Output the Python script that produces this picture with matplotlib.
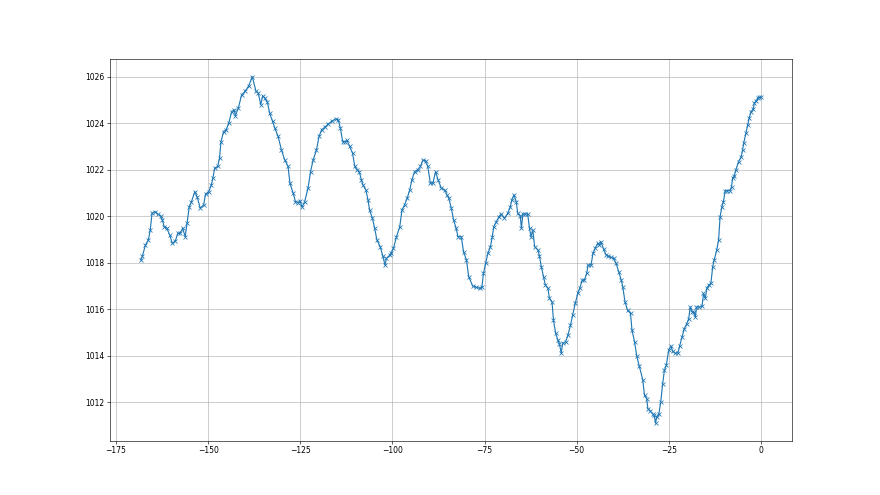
import matplotlib
matplotlib.use('Agg')
import matplotlib.pyplot as plt

# Pressure readings over the last week (hours before now, hPa)
hours = [
    -168.2, -167.8, -167.0, -166.2, -165.7, -165.2, -164.4, -163.7, -162.8, -162.4,
    -161.9, -161.2, -160.4, -159.7, -158.9, -158.2, -157.6, -156.9, -156.2, -155.7,
    -155.1, -154.5, -153.6, -153.0, -152.1, -151.2, -150.7, -149.8, -149.1, -148.7,
    -148.2, -147.4, -146.9, -146.5, -145.8, -145.1, -144.4, -143.6, -142.9, -142.6,
    -141.8, -140.9, -140.0, -139.0, -138.0, -137.0, -136.4, -135.7, -135.2, -134.6,
    -133.9, -133.3, -132.5, -131.9, -131.0, -130.1, -129.2, -128.3, -127.8, -126.9,
    -126.3, -125.6, -125.1, -124.5, -123.8, -122.9, -122.2, -121.5, -120.6, -119.9,
    -119.2, -118.3, -117.4, -116.5, -115.4, -114.7, -114.1, -113.5, -112.9, -112.3,
    -111.6, -110.8, -110.2, -109.6, -109.0, -108.4, -108.0, -107.2, -106.6, -106.2,
    -105.4, -104.8, -104.2, -103.3, -102.6, -102.0, -101.6, -100.7, -100.4, -99.7,
    -98.9, -98.0, -97.4, -96.7, -96.0, -95.3, -94.7, -94.0, -93.1, -92.4,
    -91.7, -91.0, -90.4, -89.7, -89.0, -88.3, -87.6, -86.7, -85.8, -85.2,
    -84.7, -84.0, -83.4, -82.7, -82.2, -81.3, -80.7, -79.9, -79.3, -78.2,
    -77.2, -76.3, -75.7, -75.3, -74.7, -74.1, -73.4, -72.9, -72.5, -71.8,
    -71.1, -70.5, -69.6, -68.7, -68.0, -67.6, -67.0, -66.4, -66.0, -65.3,
    -65.0, -64.6, -64.0, -63.3, -62.8, -62.4, -61.9, -61.4, -60.5, -60.1,
    -59.6, -59.0, -58.5, -57.8, -57.4, -56.7, -56.3, -55.7, -55.1, -54.7,
    -54.2, -53.8, -53.0, -52.4, -51.7, -51.1, -50.4, -49.7, -49.2, -48.5,
    -47.9, -47.3, -46.9, -46.1, -45.6, -45.0, -44.3, -43.9, -43.4, -42.7,
    -42.0, -41.4, -40.7, -40.0, -39.3, -38.6, -37.9, -37.5, -36.9, -36.2,
    -35.4, -35.0, -34.3, -33.7, -33.0, -32.1, -31.6, -31.0, -30.7, -30.1,
    -29.4, -29.0, -28.6, -28.3, -27.7, -27.2, -26.7, -26.2, -25.7, -25.0,
    -24.4, -24.0, -23.2, -22.5, -22.1, -21.4, -20.8, -20.2, -19.6, -19.2,
    -18.7, -18.3, -17.8, -17.5, -16.8, -16.0, -15.6, -15.1, -14.7, -14.2,
    -13.6, -13.1, -12.7, -12.0, -11.5, -11.1, -10.6, -10.2, -9.7, -9.1,
    -8.4, -8.0, -7.7, -7.3, -6.8, -6.1, -5.4, -5.0, -4.7, -4.1,
    -3.6, -3.2, -2.7, -2.1, -1.8, -1.4, -0.9, -0.5, 0.0,
]
pressure = [
    1018.12, 1018.30, 1018.76, 1018.98, 1019.40, 1020.13, 1020.20, 1020.10, 1020.00, 1019.84,
    1019.55, 1019.48, 1019.19, 1018.83, 1018.93, 1019.27, 1019.27, 1019.48, 1019.12, 1019.70,
    1020.41, 1020.63, 1021.06, 1020.84, 1020.34, 1020.49, 1020.95, 1021.06, 1021.35, 1021.64,
    1022.07, 1022.14, 1022.50, 1023.21, 1023.64, 1023.72, 1024.00, 1024.50, 1024.58, 1024.33,
    1024.65, 1025.22, 1025.37, 1025.60, 1026.00, 1025.37, 1025.30, 1024.80, 1025.18, 1025.08,
    1024.90, 1024.43, 1024.08, 1023.79, 1023.43, 1022.85, 1022.42, 1022.14, 1021.42, 1020.99,
    1020.63, 1020.59, 1020.67, 1020.39, 1020.63, 1021.20, 1021.92, 1022.42, 1022.85, 1023.43,
    1023.72, 1023.83, 1023.97, 1024.08, 1024.19, 1024.15, 1023.79, 1023.21, 1023.21, 1023.26,
    1023.00, 1022.71, 1022.14, 1022.00, 1021.92, 1021.56, 1021.35, 1021.13, 1020.70, 1020.27,
    1019.91, 1019.48, 1018.98, 1018.69, 1018.29, 1017.90, 1018.19, 1018.33, 1018.40, 1018.62,
    1019.12, 1019.55, 1020.27, 1020.49, 1020.77, 1021.13, 1021.56, 1021.92, 1022.00, 1022.14,
    1022.42, 1022.38, 1022.14, 1021.42, 1021.42, 1021.92, 1021.56, 1021.20, 1021.13, 1020.92,
    1020.77, 1020.34, 1019.84, 1019.48, 1019.12, 1019.12, 1018.47, 1018.12, 1017.40, 1017.00,
    1016.94, 1016.90, 1016.97, 1017.54, 1017.97, 1018.40, 1018.69, 1019.12, 1019.55, 1019.77,
    1019.98, 1020.10, 1019.91, 1020.13, 1020.41, 1020.70, 1020.92, 1020.63, 1020.13, 1020.01,
    1019.48, 1020.10, 1020.10, 1020.10, 1019.48, 1019.12, 1019.40, 1018.69, 1018.55, 1018.29,
    1017.83, 1017.40, 1017.04, 1016.90, 1016.47, 1016.32, 1015.53, 1014.96, 1014.67, 1014.52,
    1014.12, 1014.53, 1014.60, 1014.88, 1015.31, 1015.75, 1016.25, 1016.68, 1016.90, 1017.25,
    1017.25, 1017.54, 1017.90, 1017.90, 1018.40, 1018.62, 1018.83, 1018.76, 1018.90, 1018.58,
    1018.33, 1018.29, 1018.23, 1018.19, 1017.97, 1017.61, 1017.25, 1016.97, 1016.32, 1015.96,
    1015.82, 1015.10, 1014.60, 1013.98, 1013.55, 1012.98, 1012.30, 1012.16, 1011.73, 1011.63,
    1011.51, 1011.45, 1011.10, 1011.37, 1011.51, 1012.01, 1012.77, 1013.38, 1013.59, 1014.27,
    1014.41, 1014.20, 1014.10, 1014.13, 1014.41, 1014.81, 1015.17, 1015.36, 1015.60, 1016.10,
    1015.89, 1015.89, 1015.67, 1016.10, 1016.10, 1016.13, 1016.68, 1016.47, 1016.90, 1017.04,
    1017.11, 1017.83, 1018.12, 1018.55, 1018.98, 1019.98, 1020.41, 1020.63, 1021.10, 1021.10,
    1021.10, 1021.27, 1021.64, 1021.71, 1022.00, 1022.35, 1022.54, 1022.85, 1023.14, 1023.57,
    1023.93, 1024.22, 1024.50, 1024.61, 1024.87, 1024.94, 1025.08, 1025.12, 1025.12,
]

fig, ax = plt.subplots(figsize=(16, 9), dpi=55)
ax.plot(hours, pressure, marker='x', color='#1f77b4')
ax.grid(True)

plt.savefig('out.png', dpi=55)
